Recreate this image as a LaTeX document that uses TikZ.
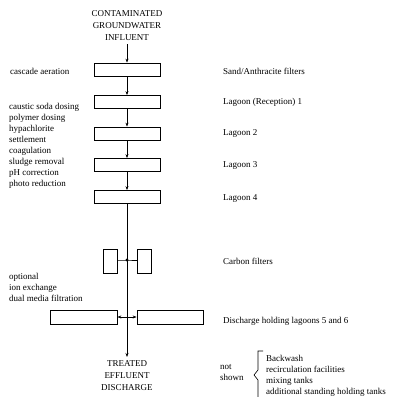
\documentclass[tikz,border=0pt]{standalone}
\usepackage{fontspec}
\setmainfont{Liberation Serif}
\usetikzlibrary{arrows.meta}
\begin{document}
\begin{tikzpicture}[x=1pt,y=-1pt,
  txt/.style={font=\fontsize{9}{11}\selectfont, inner sep=0pt, align=left},
  ctxt/.style={font=\fontsize{9}{12}\selectfont, inner sep=0pt, align=center},
  box/.style={draw, line width=0.75pt, minimum width=66pt, minimum height=13pt, inner sep=0pt},
  cbox/.style={draw, line width=0.75pt, minimum width=14pt, minimum height=24pt, inner sep=0pt},
  flow/.style={line width=0.75pt, -{Stealth[length=4pt,width=3pt]}},
  link/.style={line width=0.75pt}
]
\useasboundingbox (0,0) rectangle (393,397);
% top text
\node[ctxt, anchor=north] (in) at (127,10) {CONTAMINATED\\GROUNDWATER\\INFLUENT};
% boxes
\node[box] (b1) at (127.5,69.5) {};
\node[box] (b2) at (127.5,102) {};
\node[box] (b3) at (127.5,133.5) {};
\node[box] (b4) at (127.5,165) {};
\node[box] (b5) at (127.5,197) {};
\coordinate (c0) at (127,44);
\draw[flow] (c0) -- (b1.north -| c0);
\draw[flow] (b1.south -| c0) -- (b2.north -| c0);
\draw[flow] (b2.south -| c0) -- (b3.north -| c0);
\draw[flow] (b3.south -| c0) -- (b4.north -| c0);
\draw[flow] (b4.south -| c0) -- (b5.north -| c0);
% carbon filters
\node[cbox] (cf1) at (110,261) {};
\node[cbox] (cf2) at (144,261) {};
\coordinate (jc) at (127,260);
\coordinate (jd) at (127,317);
\coordinate (out) at (127,357);
\draw[flow] (b5.south -| c0) -- (out);
\fill (jc) circle (1.6pt);
\draw[link] (cf1.east |- jc) -- (jc) -- (cf2.west |- jc);
% discharge lagoons
\node[box, minimum width=67pt, minimum height=14pt] (d1) at (83.5,317) {};
\node[box, minimum width=66pt, minimum height=14pt] (d2) at (170,317) {};
\draw[flow] (jd) -- (d1.east);
\draw[flow] (jd) -- (d2.west);
% bottom text
\node[ctxt, anchor=north] (tr) at (127,360) {TREATED\\EFFLUENT\\DISCHARGE};
% left labels
\node[txt, anchor=west] (l1) at (10,71) {cascade aeration};
\node[txt, anchor=north west] (l2) at (9,103) {caustic soda dosing\\polymer dosing\\hypachlorite\\settlement\\coagulation\\sludge removal\\pH correction\\photo reduction};
\node[txt, anchor=north west] (l3) at (9,273) {optional\\ion exchange\\dual media filtration};
% right labels
\node[txt, anchor=west] (r1) at (223,71) {Sand/Anthracite filters};
\node[txt, anchor=west] (r2) at (223,102) {Lagoon (Reception) 1};
\node[txt, anchor=west] (r3) at (223,133) {Lagoon 2};
\node[txt, anchor=west] (r4) at (223,165) {Lagoon 3};
\node[txt, anchor=west] (r5) at (223,199) {Lagoon 4};
\node[txt, anchor=west] (r6) at (223,261) {Carbon filters};
\node[txt, anchor=west] (r7) at (223,321) {Discharge holding lagoons 5 and 6};
% not shown
\node[txt, anchor=north west] (ns) at (220,364) {not\\shown};
\draw[line width=0.6pt] (263,351) -- (258,351) -- (258,370) -- (254,375) -- (258,380) -- (258,397);
\node[txt, anchor=north west] (ls) at (266,355) {Backwash\\recirculation facilities\\mixing tanks\\additional standing holding tanks};
\end{tikzpicture}
\end{document}
